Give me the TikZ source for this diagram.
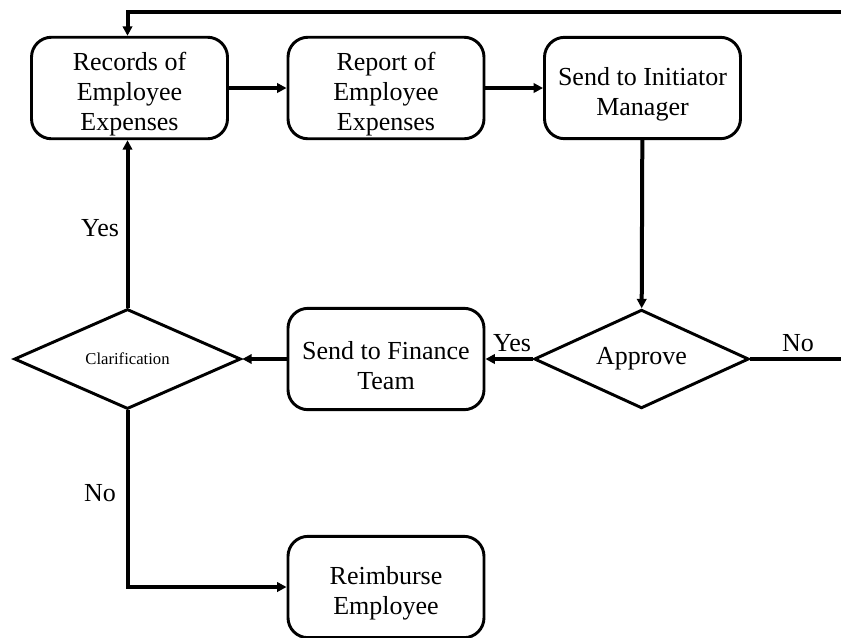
\documentclass[tikz,border=0pt]{standalone}
\usepackage{fontspec}
\setmainfont{Liberation Serif}
\usetikzlibrary{shapes.geometric,arrows.meta}
% extra room above the first text line of a box
\newcommand{\padtop}{\rule{0pt}{23pt}}
\begin{document}
\begin{tikzpicture}[x=0.75pt,y=-0.75pt,
  stepbox/.style={draw,line width=2.2pt,rounded corners=15pt,minimum width=147pt,
    minimum height=76pt,align=center,inner sep=2pt,font=\fontsize{19.5}{22.5}\selectfont},
  decision/.style={draw,shape=diamond,line width=2.2pt,inner sep=0pt,align=center,shape aspect=2.4},
  flow/.style={line width=3pt,-{Triangle[length=7pt,width=7pt]}},
  plain/.style={line width=3pt},
  lbl/.style={font=\fontsize{19.5}{22.5}\selectfont}]
\useasboundingbox (0,0) rectangle (841,637);
% process steps
\node[stepbox] (rec) at (129.5,88) {\padtop Records of\\Employee\\Expenses};
\node[stepbox] (rep) at (386,88) {\padtop Report of\\Employee\\Expenses};
\node[stepbox] (ini) at (642.5,88) {\padtop Send to Initiator\\Manager};
\node[stepbox] (fin) at (386,359) {\padtop Send to Finance\\Team};
\node[stepbox] (reim) at (386,587) {\padtop Reimburse\\Employee};
% decisions
\node[decision,minimum width=161pt,minimum height=74pt,font=\fontsize{19.5}{22.5}\selectfont] (appr) at (641.5,359) {Approve};
\node[decision,minimum width=170pt,minimum height=75pt,font=\fontsize{12.5}{14}\selectfont] (clar) at (127.5,359) {Clarification};
% loop-back ends running off the right border
\coordinate (rout) at (842,359);
\coordinate (rtop) at (842,12);
% connectors
\draw[flow] (rec) -- (rep);
\draw[flow] (rep) -- (ini);
\draw[flow] (ini) -- (appr);
\draw[flow] (appr) -- (fin);
\draw[flow] (fin) -- (clar);
\draw[flow] (clar.north) -- (rec.south -| clar.north);
\draw[flow] (clar.south) |- (reim.west);
\draw[plain] (appr.east) -- (rout);
\draw[flow] (rtop) -| (rec.north -| clar.north);
% branch labels
\node[lbl] (ly1) at (100,228) {Yes};
\node[lbl] (ln1) at (100,493) {No};
\node[lbl] (ly2) at (512,343) {Yes};
\node[lbl] (ln2) at (798,343) {No};
\end{tikzpicture}
\end{document}
